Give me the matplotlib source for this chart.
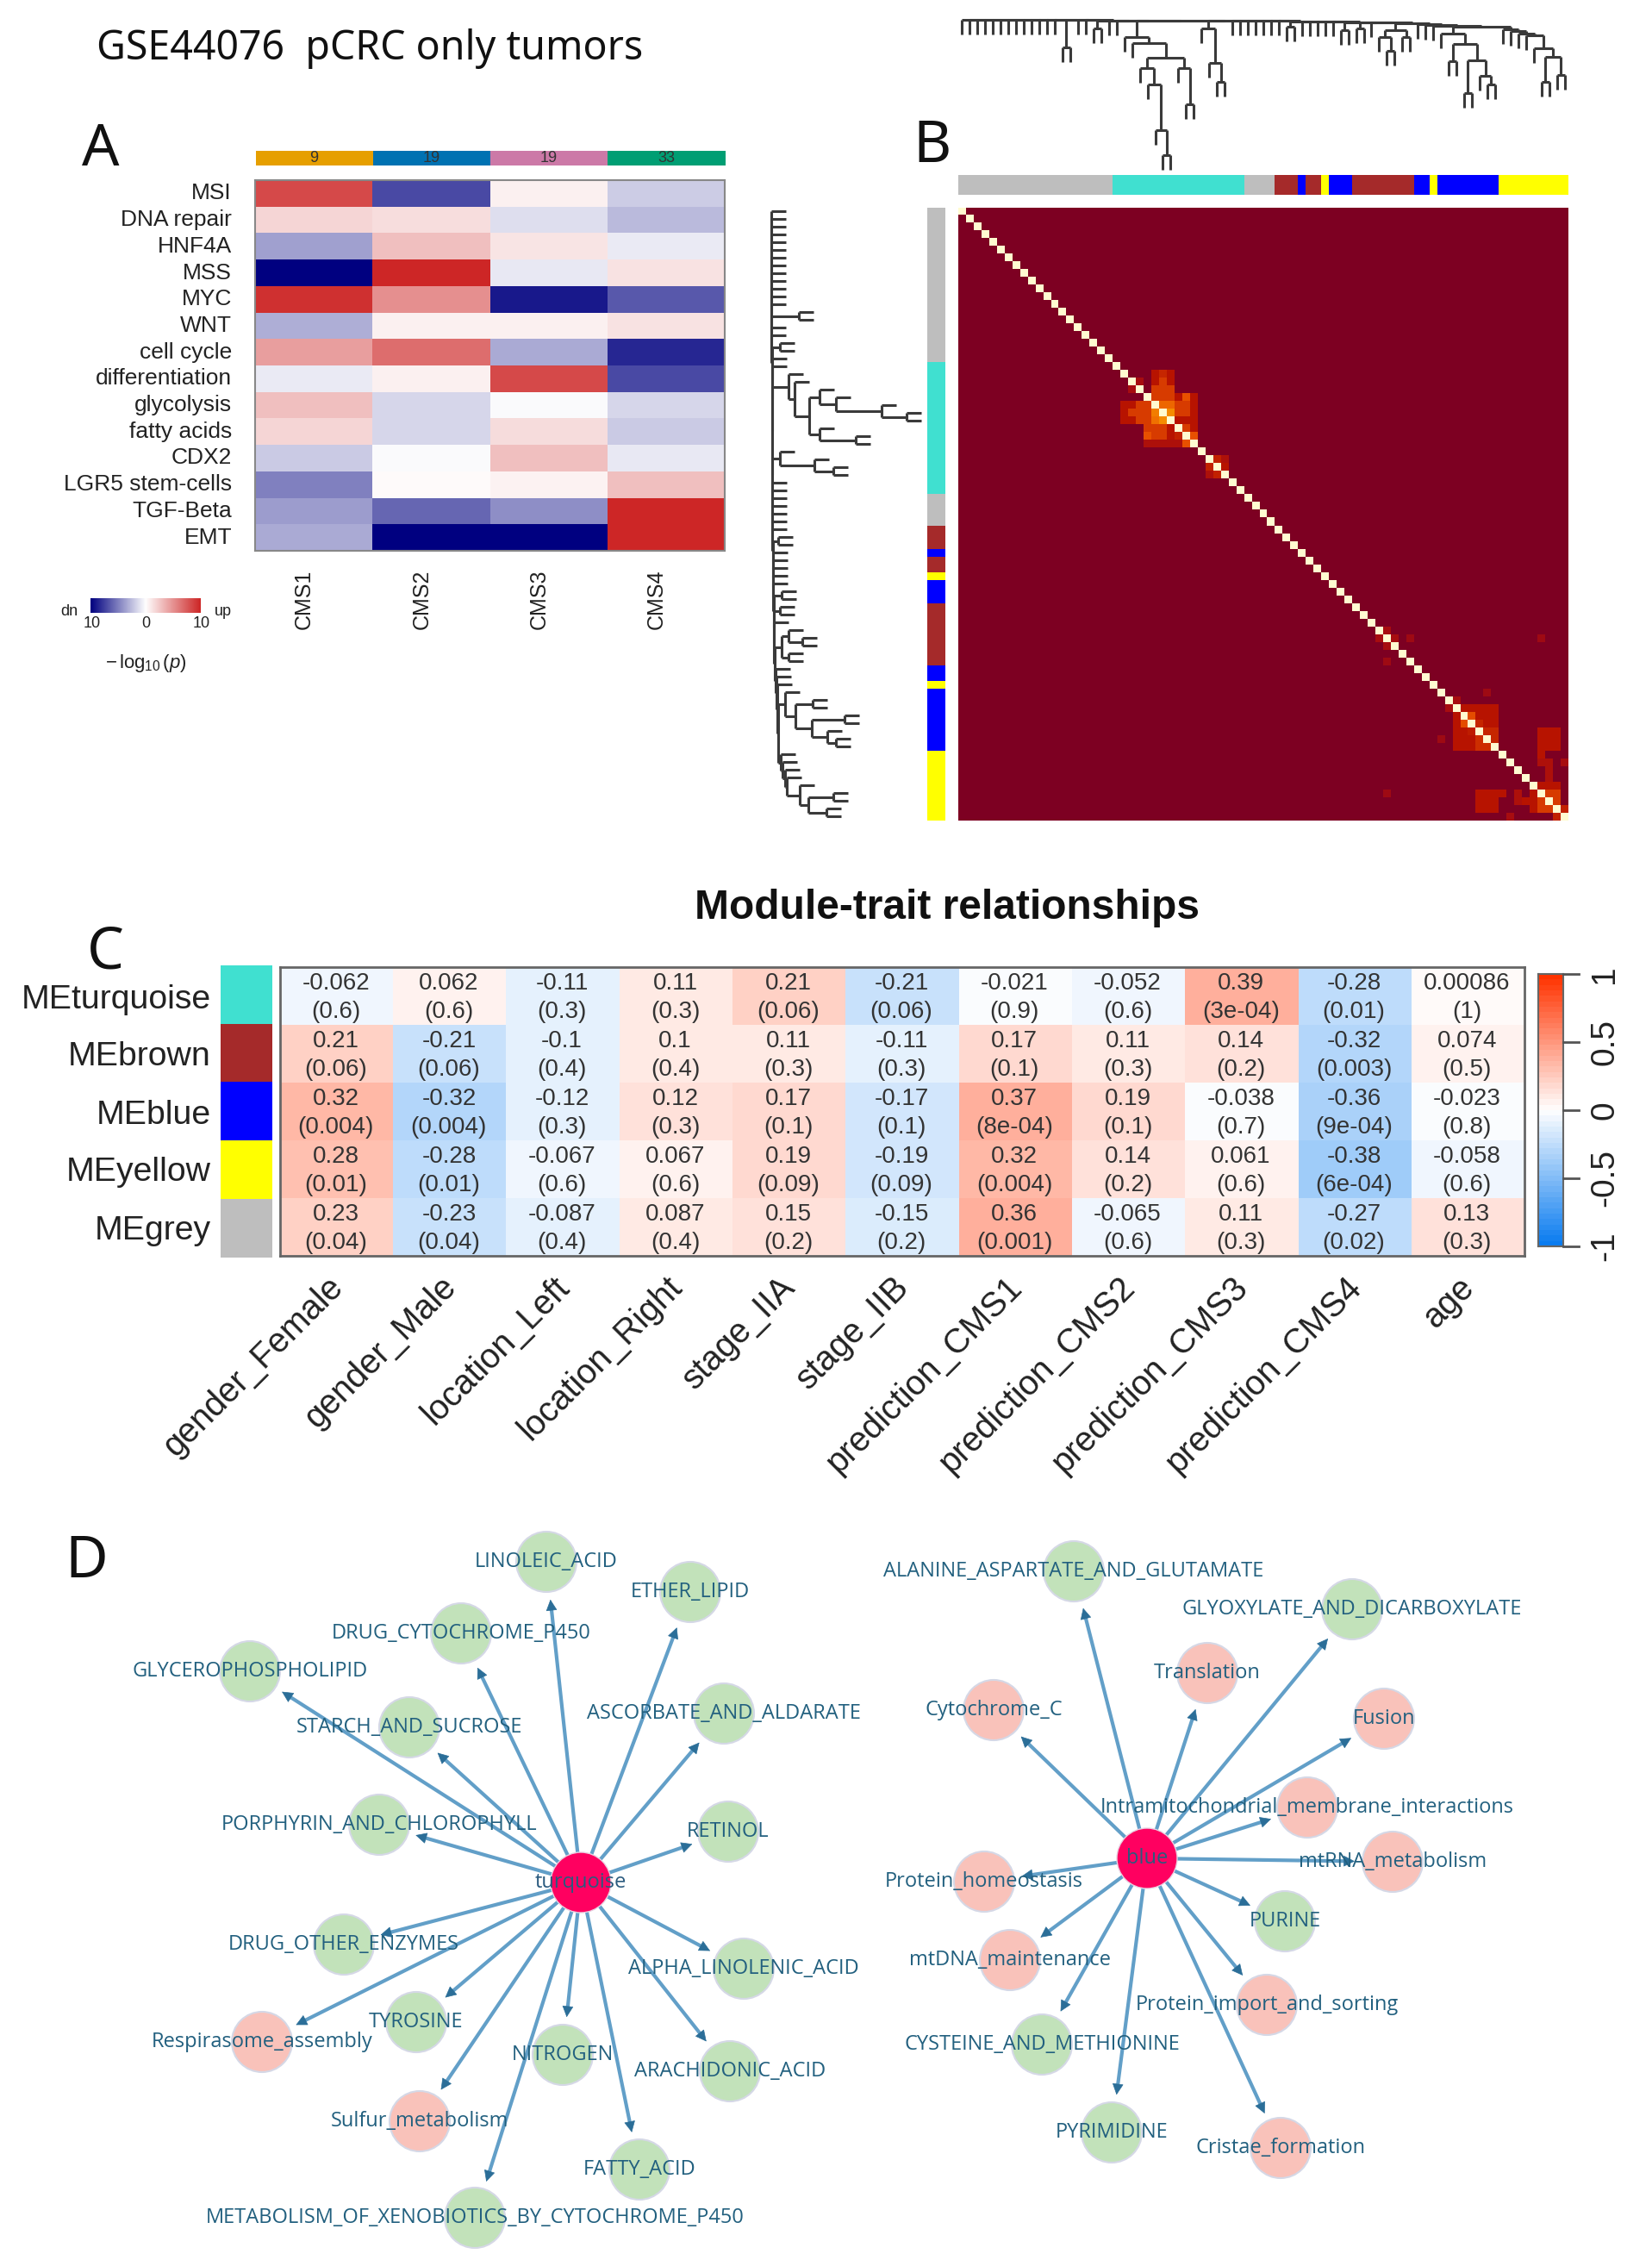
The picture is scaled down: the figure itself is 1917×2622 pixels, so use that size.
import numpy as np
import matplotlib
matplotlib.use('Agg')
import matplotlib.pyplot as plt
from matplotlib.collections import LineCollection
from matplotlib.colors import LinearSegmentedColormap, ListedColormap
from matplotlib.patches import Circle

W, H = 1917, 2622
plt.rcParams['font.family'] = ['Liberation Sans', 'DejaVu Sans']
plt.rcParams['mathtext.fontset'] = 'custom'
plt.rcParams['mathtext.rm'] = 'Liberation Sans'
plt.rcParams['mathtext.it'] = 'Liberation Sans:italic'

# Panel A: CMS enrichment, signed -log10(p)
cms_names = ['CMS1', 'CMS2', 'CMS3', 'CMS4']
cms_counts = ['9', '19', '19', '33']
cms_colors = ['#E69F00', '#0072B2', '#CC79A7', '#009E73']
sig_names = ['MSI', 'DNA repair', 'HNF4A', 'MSS', 'MYC', 'WNT', 'cell cycle', 'differentiation',
             'glycolysis', 'fatty acids', 'CDX2', 'LGR5 stem-cells', 'TGF-Beta', 'EMT']
sig_cms1 = [8.3, 1.9, -3.7, -10, 9.5, -3.2, 4.4, -0.8, 2.9, 1.9, -2.1, -5, -3.9, -3.3]
sig_cms2 = [-7.1, 1.5, 2.9, 10, 5.1, 0.7, 6.7, 0.7, -1.6, -1.6, -0.2, 0.2, -6, -10]
sig_cms3 = [0.7, -1.3, 1.2, -0.9, -9, 0.7, -3.3, 8.3, -0.2, 1.6, 2.9, 0.6, -4.4, -10]
sig_cms4 = [-2, -2.7, -0.8, 1.3, -6.5, 1.3, -8.5, -7.1, -1.6, -2.1, -0.9, 2.9, 10, 10]

# Panel B: module strip and TOM matrix (79 gene sets)
mod_colors = ['#BEBEBE', '#40E0D0', '#BEBEBE', '#A52A2A', '#0000FF', '#A52A2A', '#FFFF00', '#0000FF',
              '#A52A2A', '#0000FF', '#FFFF00', '#0000FF', '#FFFF00']
mod_counts = [20, 17, 4, 3, 1, 2, 1, 3, 8, 2, 1, 8, 9]
n_sets = 79
# (row_from, row_to, col_from, col_to, value), inclusive
tom_turquoise = [
    (21, 21, 25, 27, .15), (21, 21, 26, 26, .22), (22, 22, 25, 27, .15), (22, 22, 26, 26, .3),
    (22, 22, 23, 23, .1), (23, 23, 22, 22, .1), (23, 24, 25, 27, .3), (24, 24, 28, 30, .15),
    (24, 24, 29, 29, .4), (25, 27, 21, 22, .15), (25, 27, 23, 24, .3), (26, 26, 22, 22, .3),
    (25, 25, 26, 27, .47), (26, 26, 25, 25, .55), (26, 26, 27, 27, .6), (27, 27, 25, 25, .5),
    (27, 27, 26, 26, .6), (25, 26, 28, 29, .3), (25, 27, 30, 30, .15), (27, 27, 28, 29, .15),
    (28, 29, 24, 26, .3), (28, 29, 27, 27, .15), (29, 29, 24, 24, .4), (28, 28, 29, 29, .3),
    (28, 28, 30, 30, .15), (29, 29, 28, 28, .2), (29, 29, 30, 30, .4), (30, 30, 24, 28, .12),
    (30, 30, 29, 29, .4), (32, 32, 33, 33, .2), (32, 32, 34, 34, .12), (33, 33, 32, 32, .2),
    (33, 33, 34, 34, .15), (34, 34, 32, 32, .12), (34, 34, 33, 33, .2),
]
tom_isolated = [
    (54, 54, 55, 55, .1), (55, 55, 54, 54, .1), (55, 55, 56, 56, .1), (56, 56, 55, 55, .1),
    (55, 55, 58, 58, .08), (58, 58, 55, 55, .08), (55, 55, 75, 75, .08), (75, 75, 55, 55, .08),
    (62, 62, 68, 68, .08), (68, 68, 62, 62, .08), (63, 63, 64, 64, .1), (64, 64, 63, 63, .1),
    (71, 71, 78, 78, .1), (78, 78, 71, 71, .1),
]
tom_lower = [
    (64, 64, 65, 69, .15), (65, 66, 67, 69, .15), (65, 69, 64, 64, .15), (66, 69, 65, 65, .15),
    (67, 69, 66, 66, .15), (65, 65, 66, 66, .38), (66, 66, 65, 65, .38), (66, 66, 67, 67, .22),
    (67, 67, 66, 66, .18), (67, 68, 68, 69, .22), (68, 69, 67, 68, .25), (67, 69, 75, 77, .15),
    (70, 70, 75, 75, .15), (75, 75, 67, 70, .15), (76, 77, 67, 69, .15), (71, 71, 75, 76, .12),
    (72, 73, 76, 76, .12), (74, 74, 75, 77, .15), (75, 76, 76, 77, .3), (75, 76, 72, 72, .12),
    (76, 76, 73, 74, .15), (77, 77, 74, 74, .15), (76, 77, 75, 75, .3), (77, 77, 76, 76, .3),
    (75, 75, 74, 74, .15), (77, 78, 78, 77, .2), (78, 78, 77, 77, .2), (77, 77, 78, 78, .2),
]

# Gene set tree: backbone items in leaf order, merge depth of each, subtrees as (depth, a, b)
L = None
pair_32, pair_10, pair_8, pair_12 = (32, L, L), (10, L, L), (8, L, L), (12, L, L)
turquoise_a = (20, L, (27, L, (44, (56, L, (75, L, (128, L, (157, L, L)))), (56, L, (98, L, L)))))
turquoise_b = (10, L, (50, L, (72, L, L)))
brown_c = (12, (20, L, (36, L, L)), (20, L, L))
blue_d = (16, L, (28, (48, L, L), (47, (85, L, L), (65, L, (75, L, L)))))
yellow_e = (33, L, (43, (72, L, L), (64, L, L)))
tree_items = [L] * 13 + [pair_32, L, L, pair_10, L, L, turquoise_a, turquoise_b] + [L] * 7 + \
    [pair_8] + [L] * 5 + [pair_12, pair_10, L, brown_c, L, L, L, blue_d, L, L, L, L, yellow_e]
tree_depths = [0] * 16 + [1, 1, 1, 1, 1] + [1] * 7 + [2] * 6 + [3, 3, 3, 4, 5, 6, 7, 8, 11, 13, 16, 18, 22]
leaf_hang = 17

# Panel C: module-trait correlations
module_names = ['MEturquoise', 'MEbrown', 'MEblue', 'MEyellow', 'MEgrey']
module_fill = ['#40E0D0', '#A52A2A', '#0000FF', '#FFFF00', '#BEBEBE']
trait_names = ['gender_Female', 'gender_Male', 'location_Left', 'location_Right', 'stage_IIA', 'stage_IIB',
               'prediction_CMS1', 'prediction_CMS2', 'prediction_CMS3', 'prediction_CMS4', 'age']
cor_text = [
    ['-0.062', '0.062', '-0.11', '0.11', '0.21', '-0.21', '-0.021', '-0.052', '0.39', '-0.28', '0.00086'],
    ['0.21', '-0.21', '-0.1', '0.1', '0.11', '-0.11', '0.17', '0.11', '0.14', '-0.32', '0.074'],
    ['0.32', '-0.32', '-0.12', '0.12', '0.17', '-0.17', '0.37', '0.19', '-0.038', '-0.36', '-0.023'],
    ['0.28', '-0.28', '-0.067', '0.067', '0.19', '-0.19', '0.32', '0.14', '0.061', '-0.38', '-0.058'],
    ['0.23', '-0.23', '-0.087', '0.087', '0.15', '-0.15', '0.36', '-0.065', '0.11', '-0.27', '0.13'],
]
pval_text = [
    ['0.6', '0.6', '0.3', '0.3', '0.06', '0.06', '0.9', '0.6', '3e-04', '0.01', '1'],
    ['0.06', '0.06', '0.4', '0.4', '0.3', '0.3', '0.1', '0.3', '0.2', '0.003', '0.5'],
    ['0.004', '0.004', '0.3', '0.3', '0.1', '0.1', '8e-04', '0.1', '0.7', '9e-04', '0.8'],
    ['0.01', '0.01', '0.6', '0.6', '0.09', '0.09', '0.004', '0.2', '0.6', '6e-04', '0.6'],
    ['0.04', '0.04', '0.4', '0.4', '0.2', '0.2', '0.001', '0.6', '0.3', '0.02', '0.3'],
]

# Panel D: enrichment networks, node centres (px)
left_hub = ('turquoise', 674, 2184)
left_names = ['LINOLEIC_ACID', 'ETHER_LIPID', 'DRUG_CYTOCHROME_P450', 'GLYCEROPHOSPHOLIPID', 'STARCH_AND_SUCROSE',
              'ASCORBATE_AND_ALDARATE', 'PORPHYRIN_AND_CHLOROPHYLL', 'RETINOL', 'DRUG_OTHER_ENZYMES',
              'ALPHA_LINOLENIC_ACID', 'TYROSINE', 'Respirasome_assembly', 'NITROGEN', 'ARACHIDONIC_ACID',
              'Sulfur_metabolism', 'FATTY_ACID', 'METABOLISM_OF_XENOBIOTICS_BY_CYTOCHROME_P450']
left_x = [634, 801, 535, 290, 475, 840, 440, 845, 399, 863, 483, 304, 653, 847, 487, 742, 551]
left_y = [1812, 1847, 1895, 1939, 2004, 1988, 2117, 2125, 2256, 2284, 2346, 2369, 2384, 2403, 2461, 2517, 2573]
left_kind = ['g', 'g', 'g', 'g', 'g', 'g', 'g', 'g', 'g', 'g', 'g', 'p', 'g', 'g', 'p', 'g', 'g']
right_hub = ('blue', 1331, 2156)
right_names = ['ALANINE_ASPARTATE_AND_GLUTAMATE', 'GLYOXYLATE_AND_DICARBOXYLATE', 'Translation', 'Cytochrome_C',
               'Fusion', 'Intramitochondrial_membrane_interactions', 'mtRNA_metabolism', 'Protein_homeostasis',
               'PURINE', 'mtDNA_maintenance', 'Protein_import_and_sorting', 'CYSTEINE_AND_METHIONINE',
               'PYRIMIDINE', 'Cristae_formation']
right_x = [1246, 1569, 1401, 1153, 1606, 1517, 1616, 1142, 1491, 1172, 1470, 1209, 1290, 1486]
right_y = [1823, 1867, 1941, 1984, 1994, 2097, 2160, 2183, 2229, 2274, 2326, 2372, 2474, 2492]
right_kind = ['g', 'g', 'p', 'p', 'p', 'p', 'p', 'p', 'g', 'p', 'p', 'g', 'g', 'p']


def px_axes(x0, y0, x1, y1, **kw):
    ax = fig.add_axes([x0 / W, 1 - y1 / H, (x1 - x0) / W, (y1 - y0) / H], **kw)
    return ax


def strip(ax, vertical):
    vals = np.repeat(np.arange(len(mod_counts)), mod_counts)
    img = vals[:, None] if vertical else vals[None, :]
    ax.imshow(img, cmap=ListedColormap(mod_colors), aspect='auto', interpolation='nearest')
    ax.axis('off')


def tree_segments(node, depth_of_parent, next_leaf, segs):
    """Walk the tree, return the position of node along the leaf axis"""
    if node is None:
        pos = next_leaf[0] + 0.5
        next_leaf[0] += 1
        segs.append(((pos, depth_of_parent), (pos, depth_of_parent + leaf_hang)))
        return pos
    d, a, b = node
    pa = tree_segments(a, d, next_leaf, segs)
    pb = tree_segments(b, d, next_leaf, segs)
    segs.append(((pa, d), (pb, d)))
    pos = (pa + pb) / 2
    segs.append(((pos, depth_of_parent), (pos, d)))
    return pos


root = (tree_depths[-2], tree_items[-2], tree_items[-1])
for it, dp in zip(tree_items[-3::-1], tree_depths[-3::-1]):
    root = (dp, it, root)
tree_segs = []
tree_segments(root, root[0], [0], tree_segs)

fig = plt.figure(figsize=(W / 100, H / 100), dpi=100, facecolor='white')
canvas = px_axes(0, 0, W, H, zorder=5)
canvas.set_xlim(0, W)
canvas.set_ylim(H, 0)
canvas.axis('off')
canvas.patch.set_alpha(0)

canvas.text(112, 56, 'GSE44076  pCRC only tumors', fontsize=33.5, family='Noto Sans', va='center', color='#111111')
for letter, lx, ly in [('A', 117, 174), ('B', 1082, 170), ('C', 122, 1105), ('D', 100, 1812)]:
    canvas.text(lx, ly, letter, fontsize=49, family='Noto Sans', ha='center', va='center', color='#111111')

# ---- Panel A
cms_cmap = LinearSegmentedColormap.from_list('dnup', ['#000080', '#FFFFFF', '#CD2626'])
sig = np.array([sig_cms1, sig_cms2, sig_cms3, sig_cms4]).T
ax_a = px_axes(296, 209, 841, 639)
ax_a.imshow(sig, cmap=cms_cmap, vmin=-10, vmax=10, aspect='auto', interpolation='nearest')
ax_a.set_xticks([])
ax_a.set_yticks([])
for s in ax_a.spines.values():
    s.set_color('#888888')
    s.set_linewidth(1.5)
cell_h = (639 - 209) / len(sig_names)
for i, name in enumerate(sig_names):
    canvas.text(269, 209 + cell_h * (i + 0.5), name, fontsize=19, ha='right', va='center', color='#222222')
ax_s = px_axes(297, 175, 841, 192)
ax_s.imshow(np.arange(4)[None, :], cmap=ListedColormap(cms_colors), aspect='auto', interpolation='nearest')
ax_s.axis('off')
cell_w = (841 - 296) / 4
for i in range(4):
    canvas.text(296 + cell_w * (i + 0.5), 184, cms_counts[i], fontsize=13, ha='center', va='center', color='#333333')
    canvas.text(296 + cell_w * (i + 0.5) - 11, 661, cms_names[i], fontsize=18, rotation=90, ha='center', va='top',
                color='#222222')
ax_cb = px_axes(105, 694, 232, 711)
ax_cb.imshow(np.linspace(-10, 10, 128)[None, :], cmap=cms_cmap, aspect='auto')
ax_cb.axis('off')
canvas.text(80, 710, 'dn', fontsize=13, ha='center', va='center', color='#222222')
canvas.text(259, 710, 'up', fontsize=13, ha='center', va='center', color='#222222')
for tx, lab in zip([107, 169, 234], ['10', '0', '10']):
    canvas.text(tx, 724, lab, fontsize=13, ha='center', va='center', color='#222222')
canvas.text(169, 770, r'$-\,\log_{10}(p)$', fontsize=16, ha='center', va='center', color='#222222')

# ---- Panel B
tom_cmap = LinearSegmentedColormap.from_list('tom', [(0, '#7D0022'), (.1, '#A80E10'), (.15, '#B81400'), (.3, '#D83C00'),
                                                     (.4, '#E85000'), (.5, '#F07000'), (.6, '#F58C00'), (1, '#FFFBD0')])
tom = np.zeros((n_sets, n_sets))
for r0, r1, c0, c1, v in tom_turquoise + tom_isolated + tom_lower:
    tom[min(r0, r1):max(r0, r1) + 1, min(c0, c1):max(c0, c1) + 1] = v
np.fill_diagonal(tom, 1)
ax_b = px_axes(1112, 241, 1820, 952)
ax_b.imshow(tom, cmap=tom_cmap, vmin=0, vmax=1, aspect='auto', interpolation='nearest')
ax_b.axis('off')
strip(px_axes(1112, 203, 1820, 226), False)
strip(px_axes(1076, 241, 1097, 952), True)

ax_top = px_axes(1112, 18, 1820, 203)
ax_top.add_collection(LineCollection(tree_segs, colors='#3A3A3A', linewidths=2.2))
ax_top.set_xlim(0, n_sets)
ax_top.set_ylim(180, -5)
ax_top.axis('off')
ax_left = px_axes(890, 241, 1075, 952)
ax_left.add_collection(LineCollection([[(d, p) for p, d in seg] for seg in tree_segs], colors='#3A3A3A', linewidths=2.2))
ax_left.set_ylim(n_sets, 0)
ax_left.set_xlim(-5, 180)
ax_left.axis('off')

# ---- Panel C
cor_cmap = LinearSegmentedColormap.from_list('bwr50', ['#0A7CF0', '#FFFFFF', '#FF3300'], N=50)
cor_vals = np.array([[float(v) for v in row] for row in cor_text])
ax_c = px_axes(325, 1122, 1769, 1457)
ax_c.imshow(cor_vals, cmap=cor_cmap, vmin=-1, vmax=1, aspect='auto', interpolation='nearest')
ax_c.set_xticks([])
ax_c.set_yticks([])
for s in ax_c.spines.values():
    s.set_color('#666666')
    s.set_linewidth(2)
col_w = (1769 - 325) / 11
row_h = (1457 - 1122) / 5
for i, name in enumerate(module_names):
    top = 1122 + row_h * i
    canvas.text(245, top + row_h / 2 + 4, name, fontsize=28.3, ha='right', va='center', color='#222222')
    for j in range(11):
        cx = 325 + col_w * (j + 0.5) - 1
        canvas.text(cx, top + 19, cor_text[i][j], fontsize=20, ha='center', va='center', color='#333333')
        canvas.text(cx, top + 52, '(' + pval_text[i][j] + ')', fontsize=20, ha='center', va='center', color='#333333')
ax_ms = px_axes(256, 1120, 316, 1459)
ax_ms.imshow(np.arange(5)[:, None], cmap=ListedColormap(module_fill), aspect='auto', interpolation='nearest')
ax_ms.axis('off')
for j, name in enumerate(trait_names):
    canvas.text(325 + col_w * (j + 0.5) - 12, 1474, name, fontsize=28.5, rotation=45, ha='right', va='top',
                rotation_mode='anchor', color='#222222')
canvas.text(1099, 1054, 'Module-trait relationships', fontsize=34.5, fontweight='bold', ha='center', va='center',
            color='#111111')
ax_cc = px_axes(1785, 1130, 1814, 1446)
ax_cc.imshow(np.linspace(1, -1, 200)[:, None], cmap=cor_cmap, vmin=-1, vmax=1, aspect='auto', interpolation='nearest')
ax_cc.set_xticks([])
ax_cc.set_yticks([])
for s in ax_cc.spines.values():
    s.set_color('#666666')
    s.set_linewidth(1.5)
for ty, lab in zip([1130, 1209, 1288, 1367, 1446], ['1', '0.5', '0', '-0.5', '-1']):
    canvas.plot([1814, 1832], [ty, ty], color='#555555', lw=2)
    canvas.text(1862, ty, lab, fontsize=28, rotation=90, ha='center', va='center', color='#222222')

# ---- Panel D
node_fill = {'g': '#C2E2BA', 'p': '#F9C2BA'}
label_col = '#22607F'
node_r = 35


def draw_network(hub, names, xs, ys, kinds):
    hub_name, hx, hy = hub
    for name, x, y, kind in zip(names, xs, ys, kinds):
        dx, dy = x - hx, y - hy
        dist = np.hypot(dx, dy)
        ux, uy = dx / dist, dy / dist
        tip = (x - ux * (node_r + 9), y - uy * (node_r + 9))
        canvas.plot([hx, tip[0] - ux * 6], [hy, tip[1] - uy * 6], color='#629FC8', lw=3, zorder=2,
                    solid_capstyle='butt')
        canvas.annotate('', xy=tip, xytext=(tip[0] - ux * 12, tip[1] - uy * 12), zorder=3,
                        arrowprops=dict(arrowstyle='-|>,head_length=0.7,head_width=0.35', color='#2B6E98', lw=0.5,
                                        mutation_scale=12, shrinkA=0, shrinkB=0))
        canvas.add_patch(Circle((x, y), node_r, facecolor=node_fill[kind], edgecolor='#D5D8E6', lw=1.5, zorder=1))
        canvas.text(x, y, name, fontsize=17, family='Open Sans', ha='center', va='center', color=label_col, zorder=6)
    canvas.add_patch(Circle((hx, hy), node_r, facecolor='#FF0060', edgecolor='#E8D0E0', lw=1, zorder=4))
    canvas.text(hx, hy, hub_name, fontsize=17, family='Open Sans', ha='center', va='center', color='#2A5A7E', zorder=6)


draw_network(left_hub, left_names, left_x, left_y, left_kind)
draw_network(right_hub, right_names, right_x, right_y, right_kind)

fig.savefig('out.png', dpi=100, facecolor='white')
